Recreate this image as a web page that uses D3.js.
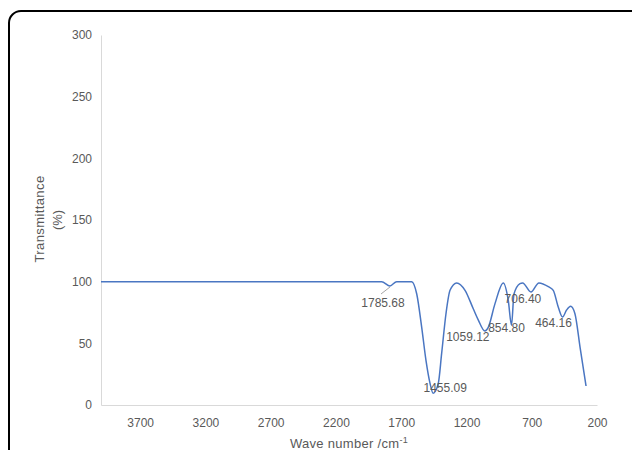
<!DOCTYPE html>
<html>
<head>
<meta charset="utf-8">
<script src="https://cdn.jsdelivr.net/npm/d3@7"></script>
<style>
	body { margin: 0; background: #fff; }
	text { font-family: "Liberation Sans", Arial, sans-serif; fill: #595959; }
</style>
</head>
<body>
<script>
// Spectrum (wave number in cm-1, transmittance in %)
var waveNumber = [4000, 1850, 1786, 1735, 1620, 1581, 1543, 1510, 1480, 1455, 1416, 1390, 1357, 1326, 1275,
	1211, 1148, 1110, 1059, 1033, 982, 918, 880, 855, 836, 790, 770, 706, 645, 573, 535, 497, 464, 433, 402,
	369, 330, 284];
var transmittance = [100, 100, 96.5, 100, 100, 90, 63, 36, 18, 9.5, 17.5, 42, 74, 93, 99,
	93, 78, 69, 60, 63, 82, 99, 85, 64.7, 90, 98.4, 99, 91.6, 99, 96, 93, 79.5, 71.4, 77, 80,
	74, 47, 15.4];

// Labelled peaks
var peakWave = [1785.68, 1455.09, 1059.12, 854.80, 706.40, 464.16];
var peakValue = [96.5, 9.5, 60, 64.7, 91.6, 71.4];

var xTicks = [3700, 3200, 2700, 2200, 1700, 1200, 700, 200];
var yTicks = [0, 50, 100, 150, 200, 250, 300];

// Where each label sits relative to its peak (px)
var labelOffsets = [[-7, 17], [12, -5], [-17, 6], [-5, 3], [-8, 7], [-9, 6]];

var width = 632, height = 450;
var plotLeft = 101, plotRight = 597, plotTop = 35, plotBottom = 405;

var svg = d3.select("body")
	.append("svg")
		.attr("width", width)
		.attr("height", height);

// Rounded frame, running off the right and bottom edges
svg.append("rect")
	.attr("x", 9)
	.attr("y", 11)
	.attr("width", 640)
	.attr("height", 470)
	.attr("rx", 12)
	.attr("fill", "none")
	.attr("stroke", "#000")
	.attr("stroke-width", 2);

var x = d3.scaleLinear().domain([4000, 200]).range([plotLeft, plotRight]);
var y = d3.scaleLinear().domain([0, 300]).range([plotBottom, plotTop]);

svg.append("g")
	.attr("transform", "translate(0," + plotBottom + ")")
	.call(d3.axisBottom(x)
		.tickValues(xTicks)
		.tickSize(0)
		.tickPadding(13)
		.tickFormat(d3.format("d")));

svg.append("g")
	.attr("transform", "translate(" + plotLeft + ",0)")
	.call(d3.axisLeft(y)
		.tickValues(yTicks)
		.tickSize(0)
		.tickPadding(9)
		.tickFormat(d3.format("d")));

svg.selectAll(".domain")
	.attr("stroke", "#d9d9d9")
	.attr("stroke-width", 1);
svg.selectAll(".tick text")
	.attr("fill", "#595959")
	.style("font-size", "12px")
	.style("font-family", "'Liberation Sans', Arial, sans-serif");

// Axis titles
svg.append("text")
	.attr("transform", "translate(44,219) rotate(-90)")
	.attr("text-anchor", "middle")
	.style("font-size", "13px")
	.style("letter-spacing", "0.4px")
	.text("Transmittance");

svg.append("text")
	.attr("transform", "translate(62,220) rotate(-90)")
	.attr("text-anchor", "middle")
	.style("font-size", "13px")
	.text("(%)");

var xTitle = svg.append("text")
	.attr("x", (plotLeft + plotRight) / 2)
	.attr("y", 448)
	.attr("text-anchor", "middle")
	.style("font-size", "13px")
	.style("letter-spacing", "0.3px");
xTitle.append("tspan").text("Wave number  /cm");
xTitle.append("tspan")
	.attr("dy", -5)
	.style("font-size", "9px")
	.text("-1");

// Spectrum line (descending wave number = left to right on screen)
var spectrum = d3.zip(waveNumber, transmittance);
var line = d3.line()
	.x(function(d) { return x(d[0]); })
	.y(function(d) { return y(d[1]); })
	.curve(d3.curveMonotoneX);

svg.append("path")
	.datum(spectrum)
	.attr("fill", "none")
	.attr("stroke", "#4a76c2")
	.attr("stroke-width", 1.5)
	.attr("d", line);

// Peak labels
var peaks = d3.zip(peakWave, peakValue, labelOffsets);

// Leader line for the first label only
svg.append("line")
	.attr("x1", x(peaks[0][0]))
	.attr("y1", y(peaks[0][1]) + 1)
	.attr("x2", x(peaks[0][0]) - 9)
	.attr("y2", y(peaks[0][1]) + 8)
	.attr("stroke", "#a6a6a6")
	.attr("stroke-width", 1);

svg.append("g")
	.selectAll("text")
	.data(peaks)
	.enter().append("text")
		.attr("x", function(d) { return x(d[0]) + d[2][0]; })
		.attr("y", function(d) { return y(d[1]) + d[2][1]; })
		.attr("text-anchor", "middle")
		.attr("dominant-baseline", "central")
		.style("font-size", "12px")
		.attr("fill", "#404040")
		.text(function(d) { return d[0].toFixed(2); });
</script>
</body>
</html>
